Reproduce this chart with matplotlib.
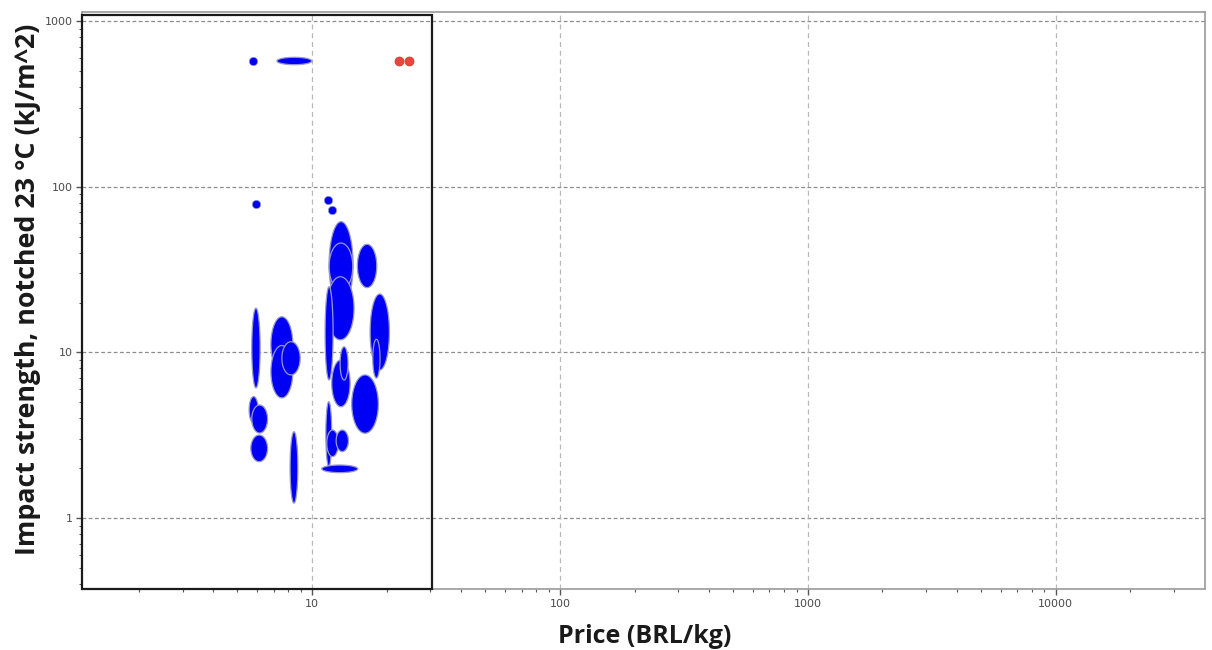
import numpy as np
import matplotlib
matplotlib.use("Agg")
import matplotlib.pyplot as plt
from matplotlib.patches import Polygon, Rectangle

# ---- data: ranges (price min, price max, impact min, impact max) ----
ell_price_min = [5.71, 6.82, 6.82, 7.55, 5.57, 5.71, 5.66, 8.15,
                 11.71, 11.71, 11.46, 11.28, 12.0, 12.97, 15.23, 17.14,
                 17.57, 14.45, 11.36, 11.46, 12.5, 10.94, 7.21]
ell_price_max = [6.17, 8.36, 8.36, 8.95, 6.06, 6.61, 6.61, 8.76,
                 14.63, 14.59, 14.76, 12.15, 14.23, 13.96, 18.23, 20.5,
                 18.79, 18.5, 12.0, 12.76, 14.01, 15.28, 9.97]
ell_imp_min = [6.10, 7.6, 5.31, 7.31, 3.75, 3.26, 2.19, 1.23,
               18.9, 23.8, 11.9, 6.81, 4.70, 6.81, 24.6, 7.83,
               7.0, 3.25, 2.04, 2.35, 2.52, 1.88, 545]
ell_imp_max = [18.5, 16.4, 11.0, 11.6, 5.41, 4.81, 3.17, 3.32,
               61.5, 45.7, 28.6, 24.9, 9.0, 10.8, 44.9, 22.5,
               12.0, 7.31, 5.04, 3.40, 3.40, 2.09, 604]

# single-value points
blue_price = [5.78, 5.95, 11.6, 12.0]
blue_imp = [574, 79, 83, 72]
red_price = [22.4, 24.6]
red_imp = [574, 574]

# selection box range
box_price = (1.18, 30.5)
box_imp = (0.375, 1090)

x_ticks = [10, 100, 1000, 10000]
x_tick_labels = ["10", "100", "1000", "10000"]
y_ticks = [1, 10, 100, 1000]
y_tick_labels = ["1", "10", "100", "1000"]
x_label = "Price (BRL/kg)"
y_label = "Impact strength, notched 23 °C (kJ/m^2)"

fig = plt.figure(figsize=(12.12, 6.5), dpi=100)
ax = fig.add_axes([0.0677, 0.0938, 0.9263, 0.8877])
ax.set_xscale("log")
ax.set_yscale("log")
ax.set_xlim(1.18, 39900)
ax.set_ylim(0.373, 1133)

# grid
for v in y_ticks:
    ax.axhline(v, color="#8c8c8c", lw=0.9, ls=(0, (3, 2)), zorder=0)
for v in x_ticks:
    ax.axvline(v, color="#b8b8b8", lw=0.9, ls=(0, (4, 3)), zorder=0)

t = np.linspace(0, 2 * np.pi, 200)
for x0, x1, y0, y1 in zip(ell_price_min, ell_price_max, ell_imp_min, ell_imp_max):
    lx0, lx1, ly0, ly1 = np.log10([x0, x1, y0, y1])
    cx, cy = (lx0 + lx1) / 2, (ly0 + ly1) / 2
    rx, ry = (lx1 - lx0) / 2, (ly1 - ly0) / 2
    pts = np.column_stack([10 ** (cx + rx * np.cos(t)), 10 ** (cy + ry * np.sin(t))])
    ax.add_patch(Polygon(pts, closed=True, facecolor="#0000f5",
                         edgecolor=(0.6, 0.6, 0.8), lw=0.9, zorder=3))

ax.scatter(blue_price, blue_imp, s=36, color="#0000f5",
           edgecolor=(0.6, 0.6, 0.8), lw=0.5, zorder=4)
ax.scatter(red_price, red_imp, s=42, color="#e8463c",
           edgecolor="#c0392b", lw=0.5, zorder=4)

ax.add_patch(Rectangle((box_price[0], box_imp[0]), box_price[1] - box_price[0],
                       box_imp[1] - box_imp[0], fill=False, edgecolor="#1a1a1a",
                       lw=1.6, zorder=5, clip_on=False))

for s in ax.spines.values():
    s.set_color("#9a9a9a")
    s.set_linewidth(1.2)

ax.set_xticks(x_ticks)
ax.set_xticklabels(x_tick_labels)
ax.set_yticks(y_ticks)
ax.set_yticklabels(y_tick_labels)
ax.tick_params(axis="both", which="major", direction="out", length=4,
               width=1, color="#555555", labelsize=8, labelcolor="#4a4a4a", pad=3)
ax.tick_params(axis="both", which="minor", direction="out", length=2.5,
               width=0.8, color="#555555")

ax.set_xlabel(x_label, fontsize=18, fontweight="bold", family="Open Sans",
              color="#1a1a1a", va="center")
ax.set_ylabel(y_label, fontsize=19.3, fontweight="bold", family="Open Sans",
              color="#1a1a1a", va="center")
ax.xaxis.set_label_coords(0.5011, -0.0815)
ax.yaxis.set_label_coords(-0.048, 0.52)

fig.savefig("out.png", dpi=100)
